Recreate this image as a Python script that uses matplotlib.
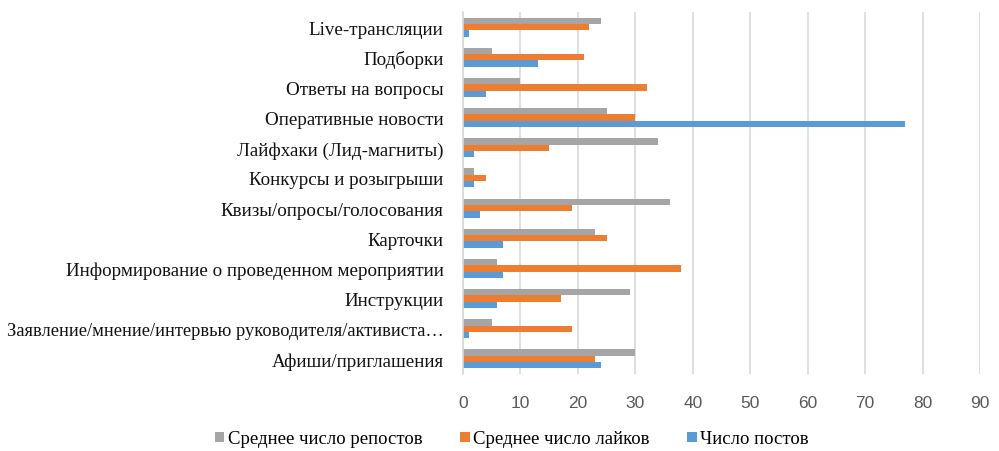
import numpy as np
import matplotlib
matplotlib.use("Agg")
import matplotlib.pyplot as plt

# categories from bottom to top (as in the chart)
categories = [
    "Афиши/приглашения",
    "Заявление/мнение/интервью руководителя/активиста…",
    "Инструкции",
    "Информирование о проведенном мероприятии",
    "Карточки",
    "Квизы/опросы/голосования",
    "Конкурсы и розыгрыши",
    "Лайфхаки (Лид-магниты)",
    "Оперативные новости",
    "Ответы на вопросы",
    "Подборки",
    "Live-трансляции",
]
posts = [24, 1, 6, 7, 7, 3, 2, 2, 77, 4, 13, 1]
likes = [23, 19, 17, 38, 25, 19, 4, 15, 30, 32, 21, 22]
reposts = [30, 5, 29, 6, 23, 36, 2, 34, 25, 10, 5, 24]

COLORS = {"posts": "#5B9BD5", "likes": "#ED7D31", "reposts": "#A5A5A5"}
SERIF = ["Liberation Serif", "DejaVu Serif"]

fig = plt.figure(figsize=(9.99, 4.52), dpi=100)
ax = fig.add_axes([463 / 999, 1 - 375 / 452, (980 - 463) / 999, 362 / 452])

y = np.arange(len(categories))
h = 0.21
b_rep = ax.barh(y + h, reposts, height=h, color=COLORS["reposts"], label="Среднее число репостов")
b_lik = ax.barh(y, likes, height=h, color=COLORS["likes"], label="Среднее число лайков")
b_pos = ax.barh(y - h, posts, height=h, color=COLORS["posts"], label="Число постов")

ax.set_xlim(0, 90)
ax.set_ylim(-0.5, len(categories) - 0.5)
ax.set_xticks(np.arange(0, 91, 10))
ax.set_yticks(y)
ax.set_yticklabels(categories, fontfamily=SERIF, fontsize=13.7, color="#111111")
# the long label is a bit tighter in the original, keep it inside the figure
ax.get_yticklabels()[1].set_fontsize(13.2)
ax.grid(axis="x", color="#D9D9D9", linewidth=1.2)
ax.set_axisbelow(True)
for s in ["top", "right", "bottom"]:
    ax.spines[s].set_visible(False)
ax.spines["left"].set_color("#D9D9D9")
ax.spines["left"].set_linewidth(1.2)
ax.tick_params(axis="y", length=0, pad=14)
ax.tick_params(axis="x", length=0, pad=15, labelsize=12.5, labelcolor="#595959")
for t in ax.get_xticklabels():
    t.set_fontfamily(["Liberation Sans", "DejaVu Sans"])

fig.legend(handles=[b_rep, b_lik, b_pos], loc="center", bbox_to_anchor=(512 / 999, 1 - 440 / 452),
           ncol=3, frameon=False, prop={"family": SERIF, "size": 13.5},
           handlelength=0.5, handleheight=0.5, handletextpad=0.2, columnspacing=2.0)

fig.savefig("out.png", dpi=100)
